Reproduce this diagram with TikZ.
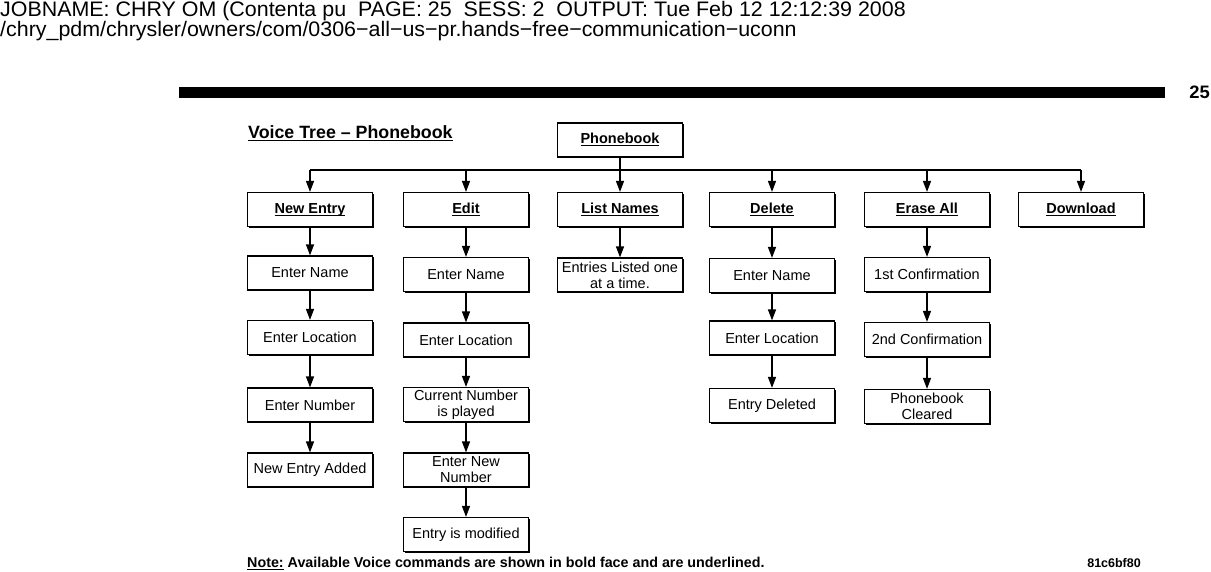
\documentclass[tikz,border=0pt]{standalone}
\usepackage{fontspec}
\setmainfont{Liberation Sans}
\newfontfamily\hdrfont[FakeStretch=1.02]{Liberation Sans}
\newcommand{\uln}[1]{\leavevmode\setbox0\hbox{#1}\rlap{\rule[-2.6pt]{\wd0}{1pt}}\box0\relax}
\usetikzlibrary{arrows.meta,shadows}

\tikzset{
    box/.style={draw, line width=1.2pt, fill=white, minimum width=125pt, minimum height=34pt,
        inner sep=2pt, align=center, font=\fontsize{14.5}{16}\selectfont,
        drop shadow={shadow xshift=1.3pt, shadow yshift=-1.3pt, fill=black, opacity=1}},
    cmd/.style={box, font=\fontsize{14.5}{16}\selectfont\bfseries, text height=10.5pt, text depth=3.5pt},
    link/.style={line width=1.3pt, -{Triangle[length=11pt,width=8pt]}}
}

\begin{document}
\begin{tikzpicture}[x=1pt,y=-1pt]
        \useasboundingbox (0,0) rectangle (1211,571);
        % header
        \node[anchor=base west, inner sep=0, font=\hdrfont\fontsize{21}{21}\selectfont] (job) at (0,16.5)
            {JOBNAME: CHRY OM (Contenta pu\ \ PAGE: 25\ \ SESS: 2\ \ OUTPUT: Tue Feb 12 12:12:39 2008};
        \node[anchor=base west, inner sep=0, font=\hdrfont\fontsize{21}{21}\selectfont] (path) at (0,36)
            {/chry\_pdm/chrysler/owners/com/0306−all−us−pr.hands−free−communication−uconn};
        \fill (179,86.5) rectangle (1165,97.5);
        \node[anchor=base east, inner sep=0, font=\hdrfont\bfseries\fontsize{18}{18}\selectfont] (page) at (1210,98) {25};
        \node[anchor=base west, inner sep=0, font=\bfseries\fontsize{17.8}{18}\selectfont] (title) at (248,138)
            {\uln{Voice Tree – Phonebook}};
        % nodes
        \node[cmd] (pb) at (620,140) {\uln{Phonebook}};
            \node[cmd] (pb-1) at (310,209.5) {\uln{New Entry}};
                \node[box] (pb-1-1) at (310,273) {Enter Name};
                \node[box] (pb-1-2) at (310,337.5) {Enter Location};
                \node[box] (pb-1-3) at (310,405) {Enter Number};
                \node[box] (pb-1-4) at (310,470) {New Entry Added};
            \node[cmd] (pb-2) at (466,209.5) {\uln{Edit}};
                \node[box] (pb-2-1) at (466,274.5) {Enter Name};
                \node[box] (pb-2-2) at (466,340) {Enter Location};
                \node[box] (pb-2-3) at (466,404.5) {Current Number\\is played};
                \node[box] (pb-2-4) at (466,470) {Enter New\\Number};
                \node[box] (pb-2-5) at (466,534.5) {Entry is modified};
            \node[cmd] (pb-3) at (620,209.5) {\uln{List Names}};
                \node[box] (pb-3-1) at (620,275) {Entries Listed one\\at a time.};
            \node[cmd] (pb-4) at (772,209.5) {\uln{Delete}};
                \node[box] (pb-4-1) at (772,275.5) {Enter Name};
                \node[box] (pb-4-2) at (772,338) {Enter Location};
                \node[box] (pb-4-3) at (772,405.5) {Entry Deleted};
            \node[cmd] (pb-5) at (927,209.5) {\uln{Erase All}};
                \node[box] (pb-5-1) at (927,274.5) {1st Confirmation};
                \node[box] (pb-5-2) at (927,339.5) {2nd Confirmation};
                \node[box] (pb-5-3) at (927,406.5) {Phonebook\\Cleared};
            \node[cmd] (pb-6) at (1081,209.5) {\uln{Download}};
        \coordinate (bus) at (620,170);
        % arrows
        \draw[line width=1.3pt] (bus -| pb-1) -- (bus -| pb-6);
        \foreach \k in {1,2,4,5,6}
            \draw[link] (bus -| pb-\k) -- (pb-\k);
        \draw[link] (pb) -- (pb-3);
        \draw[link] (pb-1) -- (pb-1-1);
        \draw[link] (pb-1-1) -- (pb-1-2);
        \draw[link] (pb-1-2) -- (pb-1-3);
        \draw[link] (pb-1-3) -- (pb-1-4);
        \draw[link] (pb-2) -- (pb-2-1);
        \draw[link] (pb-2-1) -- (pb-2-2);
        \draw[link] (pb-2-2) -- (pb-2-3);
        \draw[link] (pb-2-3) -- (pb-2-4);
        \draw[link] (pb-2-4) -- (pb-2-5);
        \draw[link] (pb-3) -- (pb-3-1);
        \draw[link] (pb-4) -- (pb-4-1);
        \draw[link] (pb-4-1) -- (pb-4-2);
        \draw[link] (pb-4-2) -- (pb-4-3);
        \draw[link] (pb-5) -- (pb-5-1);
        \draw[link] (pb-5-1) -- (pb-5-2);
        \draw[link] (pb-5-2) -- (pb-5-3);
        % footer
        \node[anchor=base west, inner sep=0, font=\bfseries\fontsize{14.3}{15}\selectfont] (note) at (247,567)
            {\uln{Note:} Available Voice commands are shown in bold face and are underlined.};
        \node[anchor=base east, inner sep=0, font=\bfseries\fontsize{12.5}{13}\selectfont] (code) at (1141,567) {81c6bf80};
\end{tikzpicture}
\end{document}
